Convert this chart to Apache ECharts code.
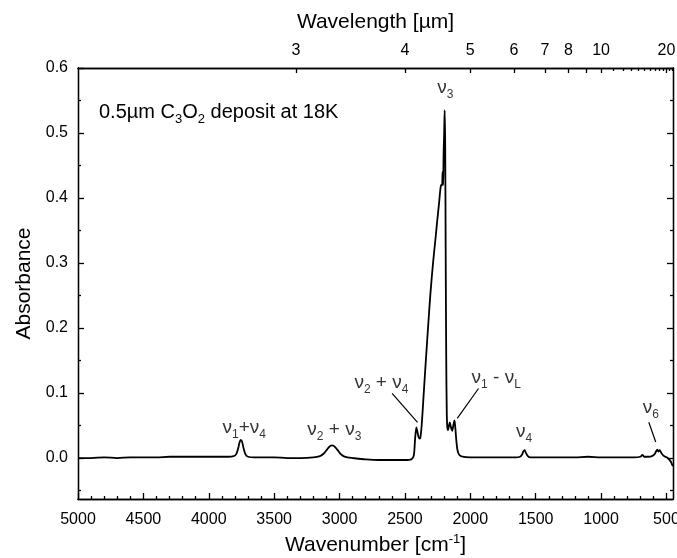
<!DOCTYPE html>
<html>
<head>
<meta charset="utf-8">
<script src="https://cdn.jsdelivr.net/npm/echarts@6/dist/echarts.min.js"></script>
<style>html,body{margin:0;padding:0;background:#fff}#c{width:677px;height:558px}</style>
</head>
<body>
<div id="c"></div>
<script>
// ---- data ----
const wavenumber = [5000,4900,4800,4700,4600,4500,4400,4300,4200,4100,4000,3900,3850,3810,3790,3775,3765,3755,3745,3735,3720,3700,3650,3600,3500,3400,3300,3200,3150,3120,3100,3080,3060,3045,3030,3010,2990,2970,2940,2900,2800,2700,2600,2500,2450,2432,2422,2412,2404,2395,2388,2382,2372,2356,2340,2320,2305,2285,2265,2253,2240,2228,2222,2216,2212,2208,2204,2200,2196,2192,2188,2184,2180,2176,2170,2163,2157,2149,2139,2130,2121,2114,2106,2098,2085,2060,2000,1900,1800,1700,1650,1620,1605,1595,1585,1575,1560,1540,1500,1400,1300,1200,1100,1000,900,800,750,700,684,670,640,610,590,580,570,562,552,540,525,510,495,480,465,455,450];
const absorbance = [0.000,0.000,0.001,0.000,0.001,0.001,0.001,0.002,0.002,0.002,0.002,0.002,0.002,0.003,0.006,0.015,0.024,0.028,0.025,0.016,0.006,0.002,0.001,0.001,0.001,0.000,0.000,0.001,0.003,0.007,0.012,0.017,0.0195,0.019,0.016,0.011,0.006,0.003,0.001,0.000,-0.002,-0.003,-0.003,-0.003,-0.002,0.004,0.030,0.047,0.040,0.032,0.030,0.031,0.050,0.100,0.150,0.210,0.253,0.300,0.340,0.365,0.390,0.415,0.420,0.420,0.440,0.420,0.470,0.500,0.535,0.480,0.300,0.150,0.070,0.048,0.043,0.050,0.055,0.048,0.042,0.050,0.058,0.045,0.025,0.012,0.005,0.002,0.001,0.001,0.001,0.001,0.001,0.002,0.005,0.010,0.012,0.008,0.003,0.001,0.001,0.001,0.001,0.001,0.002,0.001,0.001,0.001,0.001,0.002,0.005,0.002,0.002,0.003,0.006,0.010,0.013,0.010,0.012,0.008,0.004,0.002,0.001,-0.002,-0.006,-0.011,-0.012];

const wnTickLabels = [5000,4500,4000,3500,3000,2500,2000,1500,1000,500];
const wnMinorTicks = [4900,4800,4700,4600,4400,4300,4200,4100,3900,3800,3700,3600,3400,3300,3200,3100,2900,2800,2700,2600,2400,2300,2200,2100,1900,1800,1700,1600,1400,1300,1200,1100,900,800,700,600];
const absTickLabels = [0.0,0.1,0.2,0.3,0.4,0.5,0.6];
const absMinorTicks = [-0.05,0.05,0.15,0.25,0.35,0.45,0.55];
const wlTickLabels = [3,4,5,6,7,8,10,20];
const wlMajorTicks = [3,4,5,6,7,8,9,10,20];
const wlMinorTicks = [11,12,13,14,15,16,17,18,19,21,22];

const peakLabels = ['{n|ν}{s|3}', '{n|ν}{s|2}{n| + ν}{s|4}', '{n|ν}{s|1}{n| - ν}{s|L}', '{n|ν}{s|1}{n|+ν}{s|4}', '{n|ν}{s|2}{n| + ν}{s|3}', '{n|ν}{s|4}', '{n|ν}{s|6}'];
const peakLabelWn = [2190, 2680, 1990, 3729, 3040, 1588, 620];
const peakLabelAbs = [0.569, 0.116, 0.123, 0.046, 0.043, 0.040, 0.078];
const pointerWn = [[2598, 2404], [1937, 2100], [635, 582]];
const pointerAbs = [[0.0995, 0.055], [0.107, 0.061], [0.055, 0.0246]];

// ---- chart ----
const FONT = 'Liberation Sans';
const chart = echarts.init(document.getElementById('c'), null, {renderer: 'canvas'});
const XMIN = 450, XMAX = 5000, YMIN = -0.063, YMAX = 0.6;
const black = '#000';
const lineStyle = {color: black, width: 1.3};

function baseX(extra) {
  return Object.assign({
    type: 'value', min: XMIN, max: XMAX, inverse: true, gridIndex: 0,
    splitLine: {show: false},
    axisLine: {show: true, onZero: false, lineStyle: lineStyle},
    axisTick: {show: false},
    axisLabel: {show: false}
  }, extra);
}
function baseY(extra) {
  return Object.assign({
    type: 'value', min: YMIN, max: YMAX, gridIndex: 0,
    splitLine: {show: false},
    axisLine: {show: true, onZero: false, lineStyle: lineStyle},
    axisTick: {show: false},
    axisLabel: {show: false}
  }, extra);
}

const spectrum = wavenumber.map((w, i) => [w, absorbance[i]]);

const richN = {n: {fontFamily: FONT, fontSize: 19, color: black, lineHeight: 22},
               s: {fontFamily: FONT, fontSize: 12, color: black, lineHeight: 12, padding: [14, 0, 0, 0]}};

const series = [{
  type: 'line', data: spectrum, xAxisIndex: 0, yAxisIndex: 0,
  showSymbol: false, symbol: 'none', smooth: 0.3,
  lineStyle: {color: black, width: 1.8}, silent: true, z: 5
}];
pointerWn.forEach((p, i) => {
  series.push({
    type: 'line', xAxisIndex: 0, yAxisIndex: 0, symbol: 'none', silent: true,
    data: [[p[0], pointerAbs[i][0]], [p[1], pointerAbs[i][1]]],
    lineStyle: {color: black, width: 1.2}
  });
});
series.push({
  type: 'scatter', xAxisIndex: 0, yAxisIndex: 0, symbolSize: 0, silent: true,
  data: peakLabels.map((t, i) => ({
    value: [peakLabelWn[i], peakLabelAbs[i]],
    label: {align: i === 2 ? 'left' : 'center'}
  })),
  label: {
    show: true, position: 'inside', verticalAlign: 'middle',
    formatter: p => peakLabels[p.dataIndex],
    rich: richN
  }
});

chart.setOption({
  animation: false,
  backgroundColor: '#fff',
  textStyle: {fontFamily: FONT},
  grid: {left: 78, right: 4, top: 68, bottom: 59, containLabel: false, outerBoundsMode: 'none'},
  xAxis: [
    baseX({
      position: 'bottom',
      name: 'Wavenumber [cm{sup|-1}]', nameLocation: 'middle', nameGap: 31,
      nameTextStyle: {fontFamily: FONT, fontSize: 21, color: black,
        rich: {sup: {fontFamily: FONT, fontSize: 13, color: black, padding: [0, 0, 12, 0], lineHeight: 13}}},
      axisTick: {show: true, inside: true, length: 6, lineStyle: lineStyle, customValues: wnTickLabels},
      axisLabel: {show: true, margin: 13, fontFamily: FONT, fontSize: 16, color: black, customValues: wnTickLabels,
        formatter: v => String(v)}
    }),
    baseX({
      position: 'bottom',
      axisTick: {show: true, inside: true, length: 3, lineStyle: lineStyle, customValues: wnMinorTicks}
    }),
    baseX({
      position: 'top',
      name: 'Wavelength [µm]', nameLocation: 'middle', nameGap: 35,
      nameTextStyle: {fontFamily: FONT, fontSize: 21, color: black},
      axisTick: {show: true, inside: true, length: 5, lineStyle: lineStyle, customValues: wlMajorTicks.map(l => 10000 / l)},
      axisLabel: {show: true, margin: 9, fontFamily: FONT, fontSize: 16, color: black,
        customValues: wlTickLabels.map(l => 10000 / l),
        formatter: v => String(Math.round(10000 / v))}
    }),
    baseX({
      position: 'top',
      axisTick: {show: true, inside: true, length: 3, lineStyle: lineStyle, customValues: wlMinorTicks.map(l => 10000 / l)}
    })
  ],
  yAxis: [
    baseY({
      position: 'left',
      name: 'Absorbance', nameLocation: 'middle', nameGap: 43,
      nameTextStyle: {fontFamily: FONT, fontSize: 21, color: black},
      axisTick: {show: true, inside: true, length: 6, lineStyle: lineStyle, customValues: absTickLabels},
      axisLabel: {show: true, margin: 10, fontFamily: FONT, fontSize: 16, color: black,
        customValues: absTickLabels, formatter: v => v.toFixed(1)}
    }),
    baseY({
      position: 'left',
      axisTick: {show: true, inside: true, length: 3, lineStyle: lineStyle, customValues: absMinorTicks}
    }),
    baseY({
      position: 'right',
      axisTick: {show: true, inside: true, length: 6, lineStyle: lineStyle, customValues: absTickLabels}
    }),
    baseY({
      position: 'right',
      axisTick: {show: true, inside: true, length: 3, lineStyle: lineStyle, customValues: absMinorTicks}
    })
  ],
  graphic: [{
    type: 'text', left: 99, top: 98, z: 10,
    style: {
      text: '{n|0.5µm C}{s|3}{n|O}{s|2}{n| deposit at 18K}',
      rich: {
        n: {fontFamily: FONT, fontSize: 20, fill: black, lineHeight: 24},
        s: {fontFamily: FONT, fontSize: 13, fill: black, lineHeight: 13, padding: [15, 0, 0, 0]}
      }
    }
  }],
  series: series
});
</script>
</body>
</html>
